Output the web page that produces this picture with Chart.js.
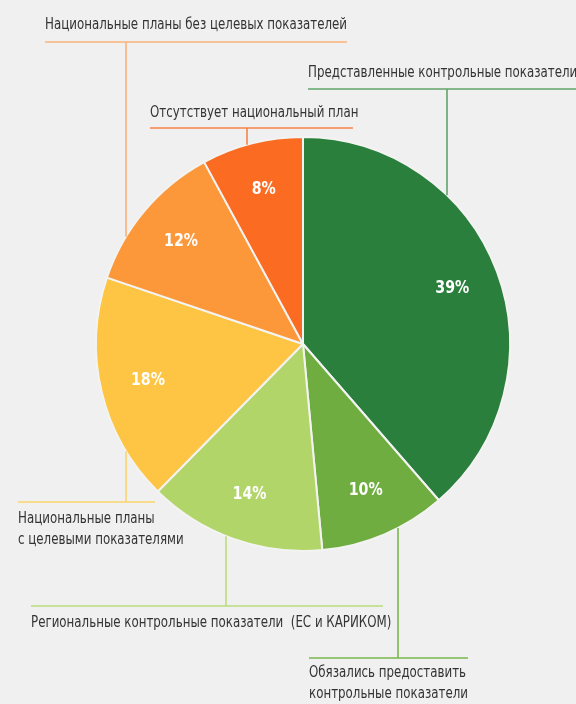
<!DOCTYPE html>
<html>
<head>
<meta charset="utf-8">
<script src="https://cdn.jsdelivr.net/npm/chart.js@4"></script>
<style>
  html, body { margin: 0; padding: 0; background: #eff0ef; }
  #wrap { width: 576px; height: 704px; }
  canvas { display: block; }
</style>
</head>
<body>
<div id="wrap"><canvas id="chart"></canvas></div>
<script>
// Slices, clockwise from 12 o'clock
const categories = [
    'Представленные контрольные показатели',
    'Обязались предоставить контрольные показатели',
    'Региональные контрольные показатели  (ЕС и КАРИКОМ)',
    'Национальные планы с целевыми показателями',
    'Национальные планы без целевых показателей',
    'Отсутствует национальный план'
];
const shares = [39, 10, 14, 18, 12, 8];
const sliceColors = ['#2a7f3c', '#6fad41', '#b2d56a', '#fec545', '#fd983a', '#fc6b22'];
const leaderColors = ['#62a56a', '#7ab84d', '#bcdc7e', '#fdd46e', '#fbb27a', '#f7844a'];

// Where each callout sits (text left, first line middle, rule y/extent, stem x)
const callouts = [
    { lines: ['Представленные контрольные показатели'], x: 308, y: 73, ruleY: 89, x0: 308, x1: 576, stem: 447, above: true },
    { lines: ['Обязались предоставить', 'контрольные показатели'], x: 309, y: 673, ruleY: 658, x0: 309, x1: 468, stem: 398, above: false },
    { lines: ['Региональные контрольные показатели  (ЕС и КАРИКОМ)'], x: 31, y: 623, ruleY: 606, x0: 31, x1: 383, stem: 226, above: false },
    { lines: ['Национальные планы', 'с целевыми показателями'], x: 18, y: 519, ruleY: 502, x0: 18, x1: 155, stem: 126, above: false },
    { lines: ['Национальные планы без целевых показателей'], x: 45, y: 25, ruleY: 42, x0: 45, x1: 347, stem: 126, above: true },
    { lines: ['Отсутствует национальный план'], x: 150, y: 113, ruleY: 128, x0: 150, x1: 353, stem: 247, above: true }
];

const labelFont = '15px "Liberation Sans Narrow", "DejaVu Sans Condensed", sans-serif';
const pctFont = 'bold 17px "Liberation Sans Narrow", "DejaVu Sans Condensed", sans-serif';

const backgroundPlugin = {
    id: 'bg',
    beforeDraw(chart) {
        const c = chart.ctx;
        c.save();
        c.fillStyle = '#eff0ef';
        c.fillRect(0, 0, chart.width, chart.height);
        c.restore();
    }
};

const calloutPlugin = {
    id: 'callouts',
    afterDraw(chart) {
        const c = chart.ctx;
        const arcs = chart.getDatasetMeta(0).data;
        const cx = arcs[0].x, cy = arcs[0].y, r = arcs[0].outerRadius;

        // text is drawn condensed to match the reference typeface width
        c.save();
        c.font = labelFont;
        const refW = c.measureText(callouts[4].lines[0]).width;
        const sx = 302 / refW;
        c.restore();

        callouts.forEach((co, i) => {
            c.save();
            c.strokeStyle = leaderColors[i];
            c.lineWidth = 1.6;
            const dx = co.stem - cx;
            const h = Math.sqrt(Math.max(r * r - dx * dx, 0));
            const yEdge = co.above ? cy - h : cy + h;
            c.beginPath();
            c.moveTo(co.x0, co.ruleY);
            c.lineTo(co.x1, co.ruleY);
            c.moveTo(co.stem, co.ruleY);
            c.lineTo(co.stem, yEdge);
            c.stroke();

            c.fillStyle = '#333333';
            c.font = labelFont;
            c.textBaseline = 'middle';
            c.textAlign = 'left';
            co.lines.forEach((t, k) => {
                c.save();
                c.translate(co.x, co.y + k * 21);
                c.scale(sx, 1);
                c.fillText(t, 0, 0);
                c.restore();
            });
            c.restore();
        });

        // percentages inside slices
        c.save();
        c.font = pctFont;
        const pw = c.measureText('39%').width;
        const psx = 34 / pw;
        c.fillStyle = '#ffffff';
        c.textAlign = 'center';
        c.textBaseline = 'middle';
        arcs.forEach((arc, i) => {
            const mid = (arc.startAngle + arc.endAngle) / 2;
            const rr = arc.outerRadius * 0.77;
            const px = arc.x + Math.cos(mid) * rr;
            const py = arc.y + Math.sin(mid) * rr;
            c.save();
            c.translate(px, py);
            c.scale(psx, 1);
            c.fillText(shares[i] + '%', 0, 0);
            c.restore();
        });
        c.restore();
    }
};

new Chart(document.getElementById('chart'), {
    type: 'pie',
    data: {
        labels: categories,
        datasets: [{
            data: shares,
            backgroundColor: sliceColors,
            borderColor: '#f3f4f2',
            borderWidth: 2
        }]
    },
    options: {
        responsive: true,
        maintainAspectRatio: false,
        animation: false,
        layout: {
            padding: { left: 95, right: 65, top: 136, bottom: 152 }
        },
        plugins: {
            legend: { display: false },
            tooltip: { enabled: false }
        }
    },
    plugins: [backgroundPlugin, calloutPlugin]
});
</script>
</body>
</html>
